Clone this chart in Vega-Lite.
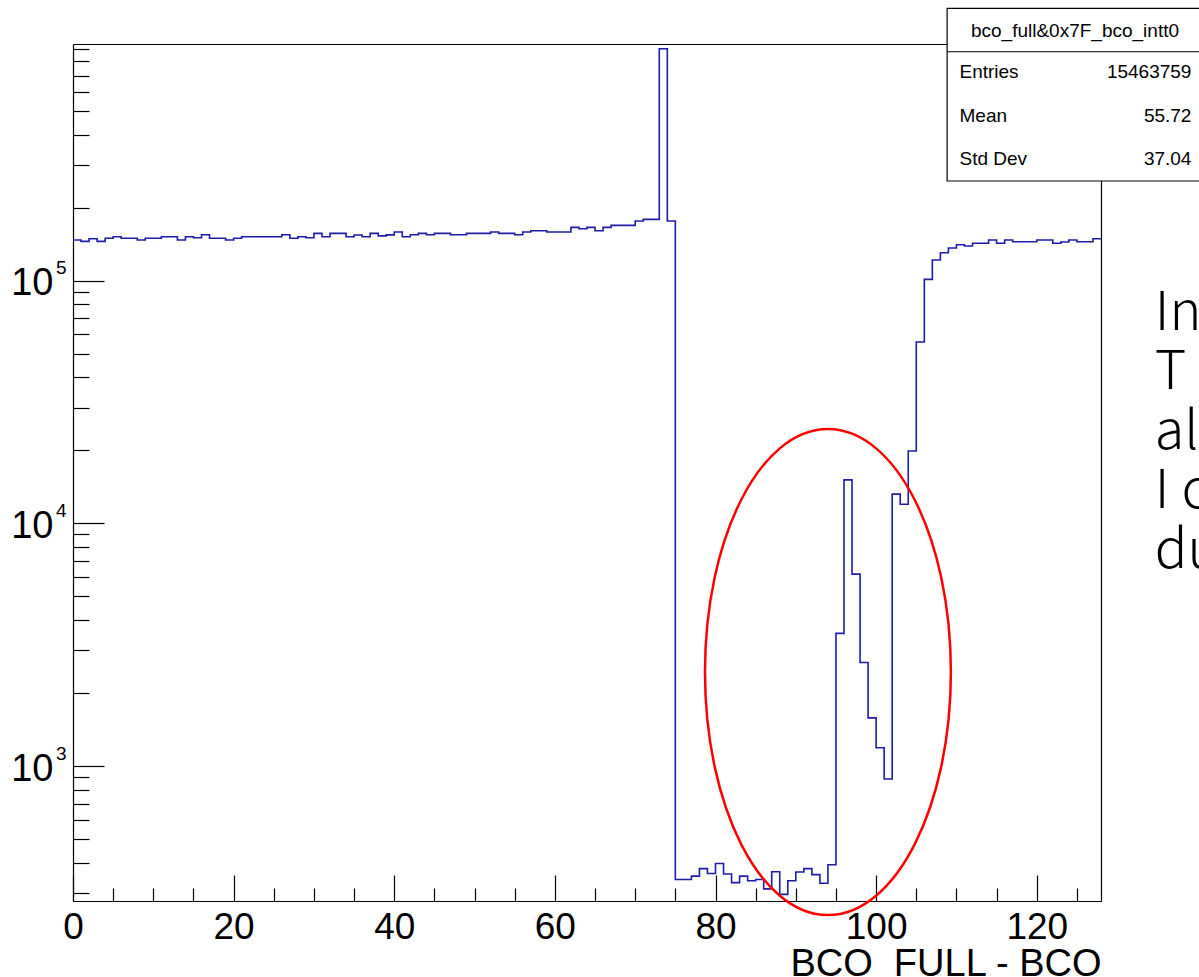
{
  "$schema": "https://vega.github.io/schema/vega-lite/v6.json",
  "description": "ROOT histogram bco_full&0x7F - bco_intt0, log y",
  "width": 1028,
  "height": 857,
  "autosize": {"type": "none"},
  "padding": {"left": 73, "top": 44, "right": 98, "bottom": 76},
  "background": "white",
  "config": {
    "view": {"stroke": null},
    "axis": {
      "grid": false,
      "domainColor": "black",
      "domainWidth": 1.2,
      "tickColor": "black",
      "tickWidth": 1.2,
      "labelColor": "black",
      "labelFont": "Liberation Sans",
      "titleFont": "Liberation Sans",
      "titleColor": "black",
      "labelFlush": false,
      "labelOverlap": false,
      "labelBound": false
    },
    "text": {"font": "Liberation Sans", "color": "black"}
  },
  "datasets": {
    "one": [{}],
    "hist": [
      {"b": 0, "n": 147000}, {"b": 1, "n": 145200}, {"b": 2, "n": 148800}, {"b": 3, "n": 145200},
      {"b": 4, "n": 149400}, {"b": 5, "n": 151700}, {"b": 6, "n": 149400}, {"b": 7, "n": 149400},
      {"b": 8, "n": 147000}, {"b": 9, "n": 149400}, {"b": 10, "n": 149400}, {"b": 11, "n": 151700},
      {"b": 12, "n": 151700}, {"b": 13, "n": 147000}, {"b": 14, "n": 151700}, {"b": 15, "n": 150200},
      {"b": 16, "n": 154600}, {"b": 17, "n": 149400}, {"b": 18, "n": 149400}, {"b": 19, "n": 147000},
      {"b": 20, "n": 149400}, {"b": 21, "n": 151700}, {"b": 22, "n": 151700}, {"b": 23, "n": 151700},
      {"b": 24, "n": 151700}, {"b": 25, "n": 151700}, {"b": 26, "n": 154600}, {"b": 27, "n": 149400},
      {"b": 28, "n": 151700}, {"b": 29, "n": 150200}, {"b": 30, "n": 156600}, {"b": 31, "n": 151700},
      {"b": 32, "n": 156600}, {"b": 33, "n": 156600}, {"b": 34, "n": 151700}, {"b": 35, "n": 154200},
      {"b": 36, "n": 151700}, {"b": 37, "n": 156600}, {"b": 38, "n": 152900}, {"b": 39, "n": 154400},
      {"b": 40, "n": 158600}, {"b": 41, "n": 151700}, {"b": 42, "n": 154600}, {"b": 43, "n": 156600},
      {"b": 44, "n": 154600}, {"b": 45, "n": 156600}, {"b": 46, "n": 156600}, {"b": 47, "n": 154600},
      {"b": 48, "n": 154600}, {"b": 49, "n": 156600}, {"b": 50, "n": 156600}, {"b": 51, "n": 156600},
      {"b": 52, "n": 158600}, {"b": 53, "n": 156600}, {"b": 54, "n": 156600}, {"b": 55, "n": 154600},
      {"b": 56, "n": 158600}, {"b": 57, "n": 160600}, {"b": 58, "n": 160600}, {"b": 59, "n": 158600},
      {"b": 60, "n": 158600}, {"b": 61, "n": 158600}, {"b": 62, "n": 165800}, {"b": 63, "n": 163600},
      {"b": 64, "n": 165800}, {"b": 65, "n": 160600}, {"b": 66, "n": 165800}, {"b": 67, "n": 169000},
      {"b": 68, "n": 169000}, {"b": 69, "n": 169000}, {"b": 70, "n": 176000}, {"b": 71, "n": 178900},
      {"b": 72, "n": 178900}, {"b": 73, "n": 903000}, {"b": 74, "n": 176000}, {"b": 75, "n": 341},
      {"b": 76, "n": 341}, {"b": 77, "n": 352}, {"b": 78, "n": 378}, {"b": 79, "n": 361},
      {"b": 80, "n": 397}, {"b": 81, "n": 359}, {"b": 82, "n": 331}, {"b": 83, "n": 352},
      {"b": 84, "n": 337}, {"b": 85, "n": 341}, {"b": 86, "n": 312}, {"b": 87, "n": 367},
      {"b": 88, "n": 296}, {"b": 89, "n": 337}, {"b": 90, "n": 366}, {"b": 91, "n": 378},
      {"b": 92, "n": 357}, {"b": 93, "n": 329}, {"b": 94, "n": 392}, {"b": 95, "n": 3520},
      {"b": 96, "n": 15100}, {"b": 97, "n": 6180}, {"b": 98, "n": 2670}, {"b": 99, "n": 1580},
      {"b": 100, "n": 1190}, {"b": 101, "n": 884}, {"b": 102, "n": 13200}, {"b": 103, "n": 11980},
      {"b": 104, "n": 19860}, {"b": 105, "n": 55850}, {"b": 106, "n": 101200}, {"b": 107, "n": 121600},
      {"b": 108, "n": 130300}, {"b": 109, "n": 136300}, {"b": 110, "n": 140600}, {"b": 111, "n": 138900},
      {"b": 112, "n": 142500}, {"b": 113, "n": 142500}, {"b": 114, "n": 147000}, {"b": 115, "n": 142500},
      {"b": 116, "n": 147000}, {"b": 117, "n": 144700}, {"b": 118, "n": 144700}, {"b": 119, "n": 144700},
      {"b": 120, "n": 147000}, {"b": 121, "n": 147000}, {"b": 122, "n": 142500}, {"b": 123, "n": 144200},
      {"b": 124, "n": 147000}, {"b": 125, "n": 144700}, {"b": 126, "n": 144700}, {"b": 127, "n": 148800},
      {"b": 128, "n": 148800}
    ]
  },
  "resolve": {"axis": {"x": "independent", "y": "independent"}},
  "layer": [
    {
      "data": {"name": "hist"},
      "mark": {"type": "line", "interpolate": "step-after", "color": "#1c1ca6", "strokeWidth": 1.6},
      "encoding": {
        "x": {
          "field": "b", "type": "quantitative",
          "scale": {"domain": [0, 128], "nice": false, "zero": false},
          "axis": {
            "orient": "bottom", "values": [0, 20, 40, 60, 80, 100, 120],
            "tickSize": -26, "labelPadding": 34, "labelFontSize": 37,
            "title": "BCO\u00a0\u00a0FULL - BCO", "titleFontSize": 38, "titleFontWeight": "normal",
            "titleAnchor": "end", "titleAlign": "right", "titlePadding": 0
          }
        },
        "y": {
          "field": "n", "type": "quantitative",
          "scale": {"type": "log", "domain": [278, 944000], "nice": false},
          "axis": {
            "orient": "left", "values": [1000, 10000, 100000],
            "tickSize": -31, "labelExpr": "'10'", "labelFontSize": 38,
            "labelPadding": 51, "labelBaseline": "middle", "labelOffset": 3, "title": null
          }
        }
      }
    },
    {
      "data": {"name": "one"},
      "mark": {
        "type": "point",
        "shape": "M-0.506,0A0.506,1 0 1,1 0.506,0A0.506,1 0 1,1 -0.506,0Z",
        "size": 236196, "filled": false, "stroke": "#ff0000", "strokeWidth": 2.5, "opacity": 1
      },
      "encoding": {
        "x": {
          "datum": 94.0, "type": "quantitative",
          "scale": {"domain": [0, 128], "nice": false, "zero": false},
          "axis": {
            "orient": "bottom",
            "values": [5, 10, 15, 25, 30, 35, 45, 50, 55, 65, 70, 75, 85, 90, 95, 105, 110, 115, 125],
            "tickSize": -13, "labels": false, "domain": false, "title": null
          }
        },
        "y": {
          "datum": 2440, "type": "quantitative",
          "scale": {"type": "log", "domain": [278, 944000], "nice": false},
          "axis": {
            "orient": "left",
            "values": [300, 400, 500, 600, 700, 800, 900, 2000, 3000, 4000, 5000, 6000, 7000, 8000, 9000,
                       20000, 30000, 40000, 50000, 60000, 70000, 80000, 90000,
                       200000, 300000, 400000, 500000, 600000, 700000, 800000, 900000],
            "tickSize": -16, "labels": false, "domain": false, "title": null
          }
        }
      }
    },
    {
      "data": {"name": "one"},
      "mark": {"type": "rect", "fill": "white", "stroke": "black", "strokeWidth": 1.2},
      "encoding": {
        "x": {
          "datum": 108.84, "type": "quantitative",
          "scale": {"domain": [0, 128], "nice": false, "zero": false},
          "axis": {"orient": "top", "ticks": false, "labels": false, "domain": true, "title": null}
        },
        "x2": {"datum": 145},
        "y": {
          "datum": 1324300, "type": "quantitative",
          "scale": {"type": "log", "domain": [278, 944000], "nice": false},
          "axis": {"orient": "right", "ticks": false, "labels": false, "domain": true, "title": null}
        },
        "y2": {"datum": 257300}
      }
    },
    {
      "data": {"name": "one"},
      "mark": {"type": "rule", "stroke": "black", "strokeWidth": 1.2},
      "encoding": {
        "x": {"datum": 108.84, "type": "quantitative", "scale": {"domain": [0, 128], "nice": false, "zero": false}, "axis": null},
        "x2": {"datum": 145},
        "y": {"datum": 877200, "type": "quantitative", "scale": {"type": "log", "domain": [278, 944000], "nice": false}, "axis": null}
      }
    },
    {
      "data": {"name": "one"},
      "mark": {"type": "text", "text": "bco_full&0x7F_bco_intt0", "align": "center", "baseline": "middle", "fontSize": 19},
      "encoding": {
        "x": {"datum": 124.76, "type": "quantitative", "scale": {"domain": [0, 128], "nice": false, "zero": false}, "axis": null},
        "y": {
          "datum": 1067600, "type": "quantitative",
          "scale": {"type": "log", "domain": [278, 944000], "nice": false},
          "axis": {
            "orient": "left", "values": [1000, 10000, 100000], "ticks": false, "domain": false,
            "labelExpr": "format(log(datum.value) / LN10, '.0f')", "labelFontSize": 19,
            "labelPadding": 7, "labelBaseline": "middle", "labelOffset": -13, "title": null
          }
        }
      }
    },
    {
      "data": {"name": "one"},
      "mark": {"type": "text", "text": ["Entries", "Mean", "Std Dev"], "align": "left", "baseline": "middle", "fontSize": 19, "lineHeight": 43.5},
      "encoding": {
        "x": {"datum": 110.38, "type": "quantitative", "scale": {"domain": [0, 128], "nice": false, "zero": false}, "axis": null},
        "y": {"datum": 723000, "type": "quantitative", "scale": {"type": "log", "domain": [278, 944000], "nice": false}, "axis": null}
      }
    },
    {
      "data": {"name": "one"},
      "mark": {"type": "text", "text": ["15463759", "55.72", "37.04"], "align": "right", "baseline": "middle", "fontSize": 19, "lineHeight": 43.5},
      "encoding": {
        "x": {"datum": 139.26, "type": "quantitative", "scale": {"domain": [0, 128], "nice": false, "zero": false}, "axis": null},
        "y": {"datum": 723000, "type": "quantitative", "scale": {"type": "log", "domain": [278, 944000], "nice": false}, "axis": null}
      }
    },
    {
      "data": {"name": "one"},
      "mark": {"type": "text", "text": ["In", "T", "al", "I c", "du"], "align": "left", "baseline": "middle", "font": "Noto Sans CJK TC", "fontWeight": 300, "fontSize": 54, "lineHeight": 59.5},
      "encoding": {
        "x": {"datum": 134.7, "type": "quantitative", "scale": {"domain": [0, 128], "nice": false, "zero": false}, "axis": null},
        "y": {"datum": 73050, "type": "quantitative", "scale": {"type": "log", "domain": [278, 944000], "nice": false}, "axis": null}
      }
    }
  ]
}
